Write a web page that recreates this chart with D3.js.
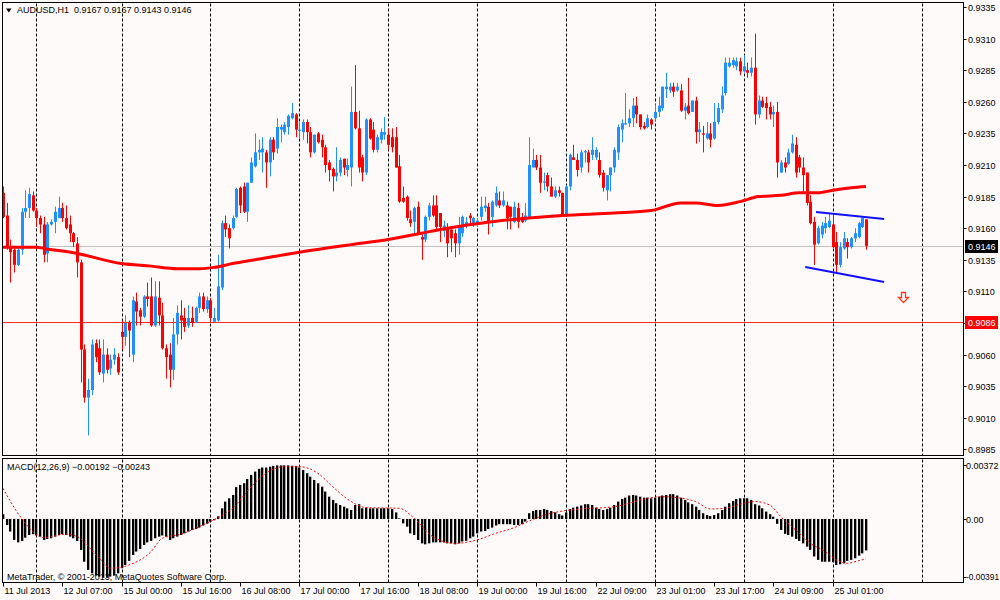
<!DOCTYPE html>
<html>
<head>
<meta charset="utf-8">
<script src="https://cdn.jsdelivr.net/npm/d3@7"></script>
<style>
    body { margin: 0; background: #fffafa; }
    svg { display: block; font-family: "Liberation Sans", Arial, sans-serif; font-size: 9px; }
</style>
</head>
<body>
<svg id="chart" width="1000" height="600"></svg>
<script>
// AUDUSD H1 prices, in pips (price * 10000), one entry per bar
var opens = [
    9188, 9170, 9145, 9143, 9131, 9143, 9173, 9176, 9186, 9174, 9168, 9163, 9140, 9163, 9165, 9168, 9176, 9168, 9163, 9156,
    9148, 9133, 9064, 9026, 9032, 9069, 9065, 9045, 9060, 9049, 9056, 9058, 9078, 9074, 9085, 9060, 9102, 9095, 9090, 9106,
    9106, 9083, 9105, 9091, 9065, 9060, 9048, 9076, 9091, 9089, 9083, 9089, 9086, 9097, 9106, 9096, 9103, 9086, 9087, 9113,
    9164, 9160, 9160, 9169, 9192, 9193, 9173, 9196, 9209, 9220, 9220, 9220, 9212, 9230, 9223, 9238, 9236, 9240, 9247, 9250,
    9237, 9236, 9244, 9236, 9220, 9235, 9230, 9224, 9212, 9207, 9201, 9204, 9215, 9206, 9208, 9252, 9239, 9216, 9204, 9246,
    9238, 9222, 9230, 9234, 9234, 9232, 9232, 9209, 9184, 9185, 9167, 9165, 9177, 9153, 9151, 9169, 9178, 9178, 9172, 9158,
    9160, 9159, 9156, 9148, 9156, 9163, 9170, 9163, 9164, 9169, 9176, 9177, 9169, 9178, 9182, 9178, 9178, 9177, 9165, 9176,
    9169, 9166, 9169, 9208, 9214, 9208, 9196, 9202, 9193, 9185, 9190, 9188, 9170, 9193, 9216, 9214, 9208, 9220, 9220, 9218,
    9216, 9214, 9204, 9190, 9202, 9208, 9220, 9238, 9242, 9243, 9247, 9257, 9250, 9241, 9240, 9246, 9247, 9252, 9255, 9270,
    9269, 9272, 9269, 9269, 9253, 9257, 9252, 9261, 9236, 9235, 9231, 9235, 9231, 9244, 9254, 9267, 9288, 9289, 9288, 9292,
    9284, 9285, 9283, 9287, 9250, 9261, 9259, 9256, 9250, 9252, 9204, 9212, 9211, 9220, 9226, 9216, 9208, 9204, 9181, 9165,
    9148, 9155, 9160, 9161, 9163, 9149, 9131, 9144, 9149, 9145, 9152, 9153, 9161, 9167
];
var highs = [
    9193, 9180, 9151, 9146, 9145, 9176, 9190, 9192, 9189, 9176, 9170, 9169, 9165, 9167, 9177, 9185, 9180, 9178, 9170, 9157,
    9153, 9135, 9068, 9041, 9072, 9072, 9072, 9072, 9065, 9060, 9065, 9061, 9087, 9091, 9087, 9106, 9109, 9097, 9107, 9117,
    9121, 9118, 9118, 9101, 9068, 9069, 9089, 9099, 9103, 9097, 9099, 9098, 9098, 9109, 9109, 9106, 9105, 9097, 9139, 9166,
    9170, 9163, 9170, 9192, 9193, 9196, 9196, 9216, 9235, 9230, 9232, 9222, 9232, 9232, 9247, 9242, 9244, 9250, 9259, 9251,
    9244, 9246, 9246, 9240, 9234, 9236, 9234, 9226, 9214, 9208, 9224, 9216, 9215, 9215, 9272, 9289, 9253, 9218, 9247, 9247,
    9244, 9234, 9239, 9248, 9239, 9239, 9240, 9218, 9193, 9186, 9174, 9177, 9181, 9155, 9170, 9180, 9186, 9186, 9172, 9166,
    9164, 9161, 9159, 9169, 9170, 9169, 9172, 9169, 9168, 9185, 9185, 9180, 9182, 9193, 9189, 9189, 9181, 9177, 9181, 9180,
    9172, 9180, 9232, 9223, 9218, 9218, 9204, 9204, 9200, 9193, 9193, 9188, 9194, 9219, 9226, 9219, 9222, 9222, 9222, 9232,
    9224, 9220, 9206, 9202, 9208, 9224, 9242, 9246, 9267, 9254, 9263, 9264, 9250, 9244, 9250, 9247, 9258, 9264, 9272, 9283,
    9275, 9275, 9275, 9274, 9259, 9279, 9261, 9264, 9244, 9241, 9244, 9243, 9259, 9259, 9272, 9295, 9295, 9295, 9295, 9295,
    9297, 9291, 9295, 9314, 9265, 9264, 9264, 9260, 9257, 9260, 9214, 9216, 9223, 9234, 9232, 9218, 9216, 9204, 9186, 9169,
    9162, 9165, 9169, 9172, 9172, 9157, 9149, 9157, 9152, 9153, 9160, 9165, 9169, 9167
];
var lows = [
    9168, 9143, 9117, 9125, 9130, 9139, 9168, 9168, 9173, 9161, 9156, 9133, 9133, 9162, 9156, 9168, 9165, 9159, 9149, 9145,
    9121, 9038, 9022, 8996, 9028, 9054, 9044, 9038, 9045, 9044, 9052, 9044, 9064, 9067, 9058, 9054, 9083, 9083, 9089, 9098,
    9082, 9082, 9083, 9064, 9041, 9034, 9040, 9068, 9072, 9078, 9081, 9082, 9085, 9093, 9094, 9093, 9086, 9086, 9086, 9111,
    9153, 9144, 9159, 9168, 9172, 9172, 9165, 9196, 9208, 9214, 9204, 9192, 9201, 9214, 9219, 9228, 9234, 9234, 9246, 9232,
    9231, 9230, 9227, 9216, 9219, 9227, 9216, 9204, 9197, 9189, 9197, 9201, 9202, 9201, 9193, 9238, 9204, 9197, 9202, 9230,
    9220, 9220, 9227, 9230, 9222, 9220, 9208, 9180, 9180, 9166, 9161, 9156, 9155, 9135, 9149, 9166, 9169, 9158, 9149, 9153,
    9137, 9141, 9137, 9139, 9153, 9160, 9163, 9161, 9161, 9166, 9173, 9155, 9161, 9177, 9176, 9177, 9159, 9159, 9164, 9160,
    9164, 9165, 9169, 9208, 9206, 9188, 9190, 9189, 9185, 9184, 9185, 9169, 9169, 9190, 9214, 9201, 9204, 9212, 9204, 9214,
    9214, 9200, 9189, 9182, 9189, 9204, 9214, 9228, 9242, 9240, 9240, 9243, 9238, 9238, 9239, 9238, 9245, 9248, 9253, 9263,
    9267, 9264, 9268, 9252, 9246, 9250, 9252, 9227, 9228, 9220, 9230, 9224, 9230, 9242, 9251, 9265, 9287, 9287, 9285, 9281,
    9283, 9279, 9280, 9242, 9247, 9255, 9246, 9246, 9240, 9200, 9204, 9204, 9210, 9219, 9200, 9204, 9188, 9178, 9163, 9131,
    9147, 9152, 9156, 9160, 9144, 9125, 9129, 9143, 9136, 9144, 9149, 9152, 9160, 9143
];
var closes = [
    9169, 9145, 9141, 9131, 9143, 9173, 9176, 9187, 9174, 9168, 9163, 9139, 9163, 9165, 9173, 9176, 9168, 9160, 9156, 9149,
    9133, 9064, 9026, 9032, 9068, 9058, 9046, 9060, 9048, 9056, 9060, 9046, 9074, 9085, 9079, 9103, 9094, 9090, 9106, 9104,
    9083, 9106, 9091, 9065, 9058, 9048, 9076, 9093, 9087, 9082, 9089, 9085, 9097, 9106, 9096, 9103, 9089, 9089, 9114, 9164,
    9159, 9152, 9168, 9191, 9178, 9173, 9196, 9212, 9220, 9222, 9223, 9212, 9230, 9220, 9240, 9240, 9242, 9249, 9251, 9238,
    9238, 9244, 9236, 9220, 9234, 9228, 9224, 9210, 9206, 9201, 9204, 9214, 9208, 9210, 9252, 9239, 9208, 9204, 9246, 9231,
    9222, 9232, 9236, 9236, 9226, 9224, 9208, 9181, 9181, 9168, 9164, 9176, 9156, 9151, 9169, 9178, 9170, 9161, 9161, 9162,
    9148, 9152, 9148, 9162, 9169, 9165, 9168, 9168, 9166, 9177, 9178, 9164, 9181, 9188, 9178, 9182, 9168, 9169, 9177, 9165,
    9165, 9170, 9210, 9214, 9208, 9196, 9197, 9193, 9185, 9190, 9188, 9170, 9193, 9218, 9214, 9206, 9220, 9221, 9212, 9222,
    9222, 9202, 9192, 9202, 9208, 9222, 9240, 9243, 9243, 9247, 9257, 9250, 9240, 9239, 9247, 9242, 9252, 9257, 9272, 9272,
    9272, 9268, 9272, 9253, 9256, 9251, 9261, 9236, 9238, 9234, 9235, 9230, 9244, 9255, 9265, 9291, 9291, 9293, 9292, 9284,
    9288, 9283, 9287, 9250, 9261, 9256, 9255, 9250, 9252, 9212, 9212, 9208, 9220, 9227, 9204, 9208, 9202, 9180, 9164, 9147,
    9160, 9162, 9164, 9166, 9145, 9131, 9145, 9152, 9145, 9152, 9156, 9164, 9168, 9146
];

// moving average: [bar, pips]
var maPoints = [
    [0, 9145], [9, 9145], [11, 9144], [20, 9140], [32, 9132], [40, 9130], [47, 9128], [53, 9128], [57, 9129],
    [62, 9132], [68, 9135], [80, 9141], [94, 9147], [104, 9151], [113, 9156], [118, 9159], [129, 9164],
    [142, 9168], [151, 9170], [165, 9172], [175, 9174], [183, 9180], [187, 9180], [193, 9178], [199, 9181],
    [204, 9185], [210, 9186], [215, 9188], [220, 9188], [224, 9190], [229, 9192], [233, 9193]
];

// MACD(12,26,9) main line, 1e-5 units, one per bar
var macdHist = [
    29, -37, -77, -128, -143, -134, -114, -98, -93, -101, -108, -128, -122, -118, -108, -98, -93, -98, -108, -118,
    -134, -189, -261, -311, -332, -346, -352, -359, -359, -352, -346, -332, -301, -281, -256, -220, -199, -183, -159, -143,
    -134, -118, -108, -101, -108, -128, -118, -108, -98, -88, -77, -67, -61, -53, -40, -29, -16, -8, 16, 65,
    106, 126, 146, 194, 208, 218, 244, 269, 289, 306, 314, 314, 319, 324, 327, 327, 327, 327, 325, 324,
    314, 299, 279, 258, 238, 218, 197, 167, 136, 116, 96, 85, 75, 65, 55, 85, 90, 65, 69, 65,
    65, 65, 65, 65, 65, 61, 40, 4, -27, -47, -88, -98, -128, -149, -155, -149, -143, -143, -143, -144,
    -149, -149, -155, -149, -138, -134, -118, -108, -88, -77, -74, -61, -53, -40, -32, -32, -32, -32, -37, -37,
    -32, -16, 35, 48, 55, 55, 61, 55, 48, 40, 29, 21, 40, 61, 69, 75, 82, 90, 90, 85,
    69, 61, 55, 61, 69, 85, 106, 122, 130, 143, 146, 143, 136, 130, 130, 126, 130, 136, 143, 146,
    151, 151, 143, 130, 116, 101, 90, 75, 55, 35, 24, 18, 24, 35, 55, 75, 96, 110, 122, 126,
    126, 126, 116, 90, 82, 65, 45, 29, 14, -30, -67, -91, -98, -108, -122, -134, -149, -169, -189, -229,
    -250, -261, -261, -261, -264, -281, -277, -271, -256, -250, -240, -224, -210, -192
];
// signal line: [bar, 1e-5 units]
var signalPoints = [
    [0, 187], [5, 4], [11, -114], [17, -93], [20, -108], [26, -240], [29, -301], [34, -281], [40, -199],
    [43, -118], [48, -93], [53, -47], [58, 8], [62, 65], [67, 197], [71, 279], [76, 319], [80, 319],
    [85, 279], [89, 197], [94, 106], [98, 69], [107, 65], [111, 4], [116, -108], [122, -149], [128, -128],
    [133, -88], [138, -53], [142, -13], [147, 29], [151, 48], [156, 61], [165, 75], [169, 96], [174, 126],
    [178, 136], [182, 130], [187, 106], [191, 61], [195, 65], [199, 90], [203, 106], [207, 85], [210, 14],
    [214, -67], [218, -149], [222, -199], [225, -250], [228, -271], [230, -261], [233, -243]
];

var priceTicks = [0.9335, 0.9310, 0.9285, 0.9260, 0.9235, 0.9210, 0.9185, 0.9160, 0.9135, 0.9110, 0.9085, 0.9060, 0.9035, 0.9010, 0.8985];
var dateLabels = ['11 Jul 2013', '12 Jul 07:00', '15 Jul 00:00', '15 Jul 16:00', '16 Jul 08:00', '17 Jul 00:00', '17 Jul 16:00',
    '18 Jul 08:00', '19 Jul 00:00', '19 Jul 16:00', '22 Jul 09:00', '23 Jul 01:00', '23 Jul 17:00', '24 Jul 09:00', '25 Jul 01:00'];
var dateLabelStep = 16;
var gridBars = [9, 32, 56, 80, 104, 128, 152, 176, 200, 224, 248];
var macdTicks = [[0.00372, '0.00372'], [0, '0.00'], [-0.00391, '-0.00391']];

var bidPrice = 0.9146;
var levelPrice = 0.9086;
// trend channel [bar, price]
var channelUpper = [[219.5, 0.91728], [237.9, 0.91673]];
var channelLower = [[216.6, 0.91293], [237.9, 0.91174]];
var arrowPoint = [243, 0.91056];

var svg = d3.select('#chart'),
    W = 1000,
    panelLeft = 2.5,
    panelRight = 963.5,
    mainTop = 2.5,
    mainBottom = 455.5,
    macdTop = 458.5,
    macdBottom = 582.5,
    bullColor = '#1e90ff',
    bearColor = '#ff0000';

var bars = opens.map(function ( o, i ) {
    return { i: i, o: o / 1e4, h: highs[i] / 1e4, l: lows[i] / 1e4, c: closes[i] / 1e4 };
});

var x = d3.scaleLinear().domain( [0, 233] ).range( [3, 866] );
var y = d3.scaleLinear().domain( [0.8985, 0.9335] ).range( [449.4, 7] );
var yM = d3.scaleLinear().domain( [-0.00391, 0.00372] ).range( [583, 458] );

svg.append( 'rect' ).attr( 'width', W ).attr( 'height', 600 ).attr( 'fill', '#fffafa' );

var defs = svg.append( 'defs' );
defs.append( 'clipPath' ).attr( 'id', 'mainClip' )
    .append( 'rect' ).attr( 'x', 3 ).attr( 'y', 3 ).attr( 'width', panelRight - 3.5 ).attr( 'height', mainBottom - 3.5 );
defs.append( 'clipPath' ).attr( 'id', 'macdClip' )
    .append( 'rect' ).attr( 'x', 3 ).attr( 'y', macdTop + 0.5 ).attr( 'width', panelRight - 3.5 ).attr( 'height', macdBottom - macdTop - 1 );

// grid
var grid = svg.append( 'g' ).attr( 'stroke', '#000' ).attr( 'stroke-width', 1 ).attr( 'stroke-dasharray', '3,2' );
gridBars.forEach( function ( b ) {
    var gx = Math.round( x( b ) ) + 0.5;
    if ( gx > panelRight ) return;
    grid.append( 'line' ).attr( 'x1', gx ).attr( 'x2', gx ).attr( 'y1', mainTop + 1 ).attr( 'y2', mainBottom );
    grid.append( 'line' ).attr( 'x1', gx ).attr( 'x2', gx ).attr( 'y1', macdTop + 1 ).attr( 'y2', macdBottom );
} );

var main = svg.append( 'g' ).attr( 'clip-path', 'url(#mainClip)' );

// price lines
main.append( 'line' )
    .attr( 'x1', panelLeft ).attr( 'x2', panelRight )
    .attr( 'y1', Math.round( y( bidPrice ) ) + 0.5 ).attr( 'y2', Math.round( y( bidPrice ) ) + 0.5 )
    .attr( 'stroke', '#c0c0c0' );
main.append( 'line' )
    .attr( 'x1', panelLeft ).attr( 'x2', panelRight )
    .attr( 'y1', Math.round( y( levelPrice ) ) + 0.5 ).attr( 'y2', Math.round( y( levelPrice ) ) + 0.5 )
    .attr( 'stroke', '#ff2a1a' );

// candles
var candle = main.selectAll( 'g.candle' )
    .data( bars )
    .enter()
    .append( 'g' )
    .attr( 'class', 'candle' );
candle.append( 'line' )
    .attr( 'x1', function ( d ) { return Math.round( x( d.i ) ) + 0.5; } )
    .attr( 'x2', function ( d ) { return Math.round( x( d.i ) ) + 0.5; } )
    .attr( 'y1', function ( d ) { return y( d.h ); } )
    .attr( 'y2', function ( d ) { return y( d.l ); } )
    .attr( 'stroke', function ( d ) { return d.c >= d.o ? bullColor : bearColor; } )
    .attr( 'stroke-width', 1 );
candle.append( 'rect' )
    .attr( 'x', function ( d ) { return Math.round( x( d.i ) ) - 1; } )
    .attr( 'width', 3 )
    .attr( 'y', function ( d ) { return y( Math.max( d.o, d.c ) ); } )
    .attr( 'height', function ( d ) { return Math.max( 1, Math.abs( y( d.o ) - y( d.c ) ) ); } )
    .attr( 'fill', function ( d ) { return d.c >= d.o ? bullColor : bearColor; } );

// moving average
main.append( 'path' )
    .datum( maPoints )
    .attr( 'fill', 'none' )
    .attr( 'stroke', '#ff0000' )
    .attr( 'stroke-width', 3 )
    .attr( 'd', d3.line()
        .x( function ( d ) { return x( d[0] ); } )
        .y( function ( d ) { return y( d[1] / 1e4 ); } )
        .curve( d3.curveMonotoneX ) );

// channel
[channelUpper, channelLower].forEach( function ( seg ) {
    main.append( 'line' )
        .attr( 'x1', x( seg[0][0] ) ).attr( 'y1', y( seg[0][1] ) )
        .attr( 'x2', x( seg[1][0] ) ).attr( 'y2', y( seg[1][1] ) )
        .attr( 'stroke', '#1010ff' )
        .attr( 'stroke-width', 2 );
} );

// sell arrow
var ax = Math.round( x( arrowPoint[0] ) ) + 0.5,
    ay = Math.round( y( arrowPoint[1] ) ) + 0.5;
main.append( 'path' )
    .attr( 'd', 'M' + ( ax - 2 ) + ',' + ( ay - 5 ) + 'H' + ( ax + 2 ) + 'V' + ay + 'H' + ( ax + 5 ) +
        'L' + ax + ',' + ( ay + 5 ) + 'L' + ( ax - 5 ) + ',' + ay + 'H' + ( ax - 2 ) + 'Z' )
    .attr( 'fill', '#fffafa' )
    .attr( 'stroke', '#ff3b1f' )
    .attr( 'stroke-width', 1.3 );

// MACD panel
var macdG = svg.append( 'g' ).attr( 'clip-path', 'url(#macdClip)' );
var zeroY = yM( 0 );
macdG.selectAll( 'rect.hist' )
    .data( macdHist )
    .enter()
    .append( 'rect' )
    .attr( 'class', 'hist' )
    .attr( 'x', function ( d, i ) { return Math.round( x( i ) ) - 1; } )
    .attr( 'width', 2 )
    .attr( 'y', function ( d ) { return Math.min( zeroY, yM( d / 1e5 ) ); } )
    .attr( 'height', function ( d ) { return Math.abs( yM( d / 1e5 ) - zeroY ); } )
    .attr( 'fill', '#000' );
macdG.selectAll( 'rect.histEdge' )
    .data( macdHist )
    .enter()
    .append( 'rect' )
    .attr( 'class', 'histEdge' )
    .attr( 'x', function ( d, i ) { return Math.round( x( i ) ) + 1; } )
    .attr( 'width', 1 )
    .attr( 'y', function ( d ) { return Math.min( zeroY, yM( d / 1e5 ) ); } )
    .attr( 'height', function ( d ) { return Math.abs( yM( d / 1e5 ) - zeroY ); } )
    .attr( 'fill', '#a8a8a8' );
macdG.append( 'path' )
    .datum( signalPoints )
    .attr( 'fill', 'none' )
    .attr( 'stroke', '#ff0000' )
    .attr( 'stroke-width', 1 )
    .attr( 'stroke-dasharray', '2,2' )
    .attr( 'd', d3.line()
        .x( function ( d ) { return x( d[0] ); } )
        .y( function ( d ) { return yM( d[1] / 1e5 ); } )
        .curve( d3.curveMonotoneX ) );

// panel borders
svg.append( 'rect' )
    .attr( 'x', panelLeft ).attr( 'y', mainTop )
    .attr( 'width', panelRight - panelLeft ).attr( 'height', mainBottom - mainTop )
    .attr( 'fill', 'none' ).attr( 'stroke', '#000' );
svg.append( 'rect' )
    .attr( 'x', panelLeft ).attr( 'y', macdTop )
    .attr( 'width', panelRight - panelLeft ).attr( 'height', macdBottom - macdTop )
    .attr( 'fill', 'none' ).attr( 'stroke', '#000' );

// price axis
var fmt4 = d3.format( '.4f' );
var priceAxis = svg.append( 'g' );
priceTicks.forEach( function ( p ) {
    var ty = Math.round( y( p ) ) + 0.5;
    priceAxis.append( 'line' ).attr( 'x1', panelRight ).attr( 'x2', panelRight + 3 )
        .attr( 'y1', ty ).attr( 'y2', ty ).attr( 'stroke', '#000' );
    priceAxis.append( 'text' ).attr( 'x', 968 ).attr( 'y', ty ).attr( 'dy', '0.35em' )
        .attr( 'fill', '#000' ).text( fmt4( p ) );
} );
[[bidPrice, '#000'], [levelPrice, '#ff0000']].forEach( function ( b ) {
    var by = Math.round( y( b[0] ) ) + 0.5;
    priceAxis.append( 'rect' ).attr( 'x', 965 ).attr( 'y', by - 6.5 ).attr( 'width', 33 ).attr( 'height', 13 )
        .attr( 'fill', b[1] );
    priceAxis.append( 'text' ).attr( 'x', 968 ).attr( 'y', by ).attr( 'dy', '0.35em' )
        .attr( 'fill', '#fff' ).text( fmt4( b[0] ) );
} );

// MACD axis
macdTicks.forEach( function ( t, k ) {
    var ty = yM( t[0] );
    if ( k === 0 ) ty += 7;
    if ( k === macdTicks.length - 1 ) ty -= 6;
    ty = Math.round( ty ) + 0.5;
    svg.append( 'line' ).attr( 'x1', panelRight ).attr( 'x2', panelRight + 3 )
        .attr( 'y1', ty ).attr( 'y2', ty ).attr( 'stroke', '#000' );
    svg.append( 'text' ).attr( 'x', 966 ).attr( 'y', ty ).attr( 'dy', '0.35em' )
        .style( 'font-size', t[1].length > 7 ? '8.4px' : null )
        .text( t[1] );
} );

// time axis
dateLabels.forEach( function ( lbl, k ) {
    var tx = Math.round( x( k * dateLabelStep ) ) + 0.5;
    svg.append( 'line' ).attr( 'x1', tx ).attr( 'x2', tx ).attr( 'y1', macdBottom ).attr( 'y2', macdBottom + 4 )
        .attr( 'stroke', '#000' );
    svg.append( 'text' ).attr( 'x', tx + 1 ).attr( 'y', 591 ).attr( 'dy', '0.35em' ).text( lbl );
} );

// header texts
var last = bars[bars.length - 1];
svg.append( 'path' ).attr( 'd', 'M6,8.5H11.5L8.75,12.5Z' ).attr( 'fill', '#000' );
svg.append( 'text' ).attr( 'x', 17 ).attr( 'y', 10 ).attr( 'dy', '0.35em' ).text( 'AUDUSD,H1' );
svg.append( 'text' ).attr( 'x', 74 ).attr( 'y', 10 ).attr( 'dy', '0.35em' )
    .text( [last.o, last.h, last.l, last.c].map( fmt4 ).join( ' ' ) );

var fmt5 = d3.format( '.5f' );
svg.append( 'text' ).attr( 'x', 7 ).attr( 'y', 467 ).attr( 'dy', '0.35em' )
    .text( 'MACD(12,26,9) ' + fmt5( macdHist[macdHist.length - 1] / 1e5 ) + ' ' +
        fmt5( signalPoints[signalPoints.length - 1][1] / 1e5 ) );
svg.append( 'text' ).attr( 'x', 7 ).attr( 'y', 577 ).attr( 'dy', '0.35em' )
    .text( 'MetaTrader, \u00a9 2001-2013, MetaQuotes Software Corp.' );
</script>
</body>
</html>
